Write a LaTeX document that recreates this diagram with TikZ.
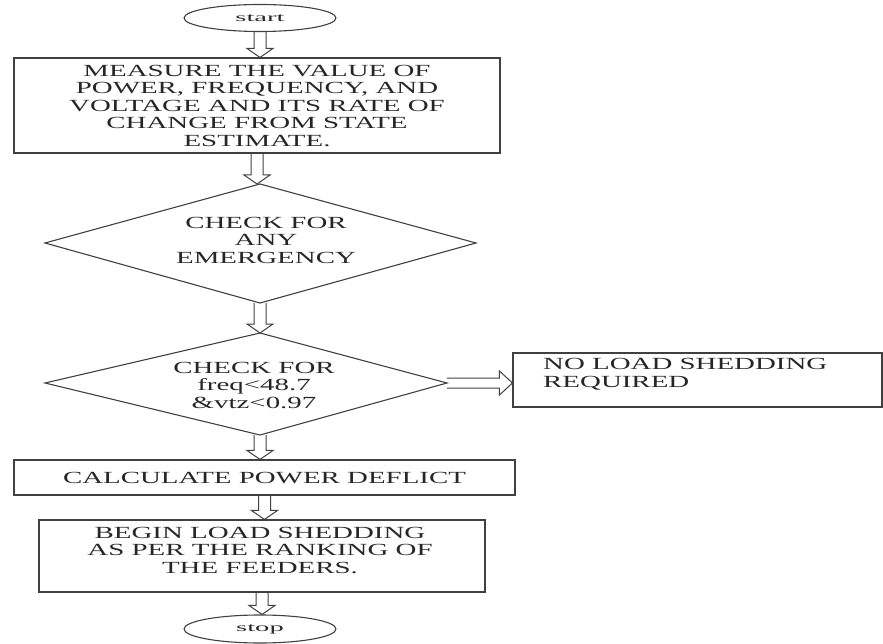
\documentclass[tikz,border=0pt]{standalone}
\usepackage{graphicx}
\usepackage{fontspec}
\setmainfont{Liberation Serif}[FakeStretch=1.7]
\usetikzlibrary{calc,shapes.geometric}
\tikzset{
  box/.style={draw=black!75, line width=1.1pt, inner sep=0pt, align=center, text=black!85,
    font=\fontsize{17}{17.5}\selectfont},
  term/.style={ellipse, draw=black!75, line width=1.1pt, inner sep=0pt,
    minimum width=152pt, minimum height=27pt, text=black!85},
  dshape/.style={draw=black!75, line width=1.1pt, line join=miter},
  hollow/.style={draw=black!75, line width=1pt, line join=miter},
  ttext/.style={font=\fontsize{17}{17.5}\selectfont, align=center, inner sep=0pt, text=black!85},
}
\newcommand{\varr}[2]{\draw[hollow] let \p1=(#1), \p2=(#2) in
  (\x1-6pt,\y1) -- (\x1-6pt,\y2+9pt) -- (\x1-13pt,\y2+9pt) -- (\x1,\y2)
  -- (\x1+13pt,\y2+9pt) -- (\x1+6pt,\y2+9pt) -- (\x1+6pt,\y1);}
\newcommand{\harr}[2]{\draw[hollow] let \p1=(#1), \p2=(#2) in
  (\x1,\y1+5pt) -- (\x2-13pt,\y1+5pt) -- (\x2-13pt,\y1+12pt) -- (\x2,\y1)
  -- (\x2-13pt,\y1-12pt) -- (\x2-13pt,\y1-5pt) -- (\x1,\y1-5pt);}
\begin{document}
\begin{tikzpicture}[x=1pt,y=-1pt]
\useasboundingbox (0,0) rectangle (883,644);

% start / stop
\node[term] (start) at (260,18) {\scalebox{1.4}[1]{\fontsize{12}{14}\selectfont start}};
\node[term, minimum height=28pt] (stop) at (260,629) {\scalebox{1.4}[1]{\fontsize{12}{14}\selectfont stop}};

% box 1
\node[box, minimum width=486pt, minimum height=95pt] (b1) at (257,105.5)
  {MEASURE THE VALUE OF\\POWER, FREQUENCY, AND\\VOLTAGE AND ITS RATE OF\\CHANGE FROM STATE\\ESTIMATE.};

% diamond 1
\coordinate (d1t) at (260,184);
\coordinate (d1r) at (476,243);
\coordinate (d1b) at (260,303);
\coordinate (d1l) at (45,243);
\draw[dshape] (d1t) -- (d1r) -- (d1b) -- (d1l) -- cycle;
\node[ttext] (d1txt) at (266,240) {CHECK FOR\\ANY\\EMERGENCY};

% diamond 2
\coordinate (d2t) at (260,333);
\coordinate (d2r) at (447,383);
\coordinate (d2b) at (260,435);
\coordinate (d2l) at (45,383);
\draw[dshape] (d2t) -- (d2r) -- (d2b) -- (d2l) -- cycle;
\node[ttext] (d2txt) at (254,385) {CHECK FOR\\freq<48.7\\\&vtz<0.97};

% no load shedding
\node[box, minimum width=369pt, minimum height=54pt] (nl) at (697.5,380) {};
\node[ttext, align=left, anchor=west] (nltxt) at (543,374) {NO LOAD SHEDDING\\REQUIRED};

% calc box
\node[box, minimum width=501pt, minimum height=35pt] (calc) at (264.5,477.5)
  {CALCULATE POWER DEFLICT};

% begin box
\node[box, minimum width=446pt, minimum height=72pt] (beg) at (262,556) {};
\node[ttext] (begtxt) at (260,550) {BEGIN LOAD SHEDDING\\AS PER THE RANKING OF\\THE FEEDERS.};

% arrows
\varr{start.south}{b1.north}
\varr{b1.south}{d1t}
\varr{d1b}{d2t}
\varr{d2b}{calc.north}
\varr{calc.south}{beg.north}
\varr{beg.south}{stop.north}
\harr{d2r}{nl.west}
\end{tikzpicture}
\end{document}
